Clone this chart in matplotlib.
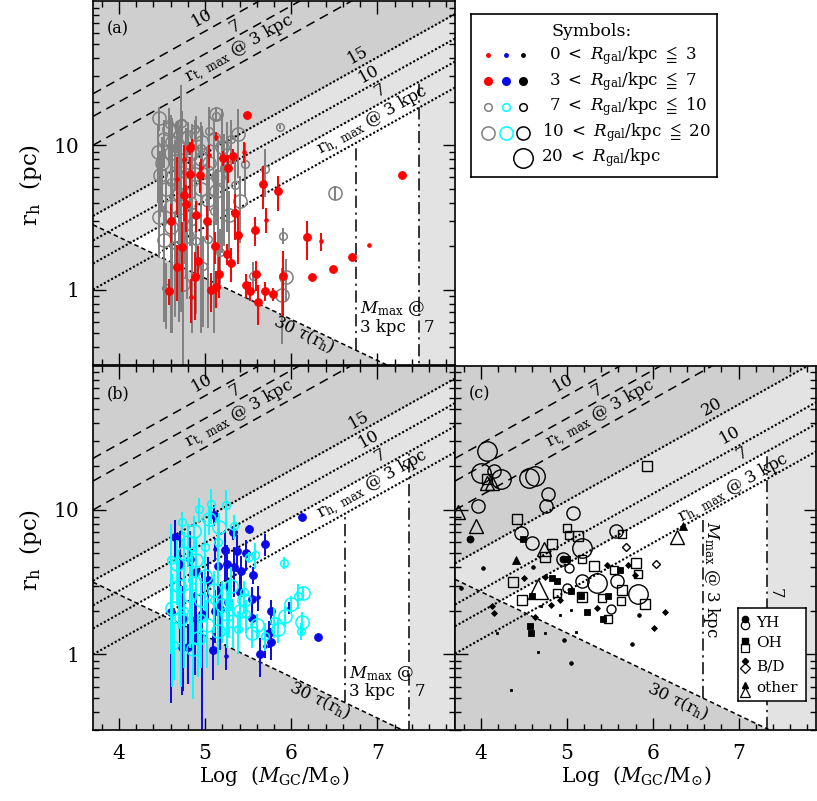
import numpy as np
import matplotlib
matplotlib.use("Agg")
import matplotlib.pyplot as plt
from matplotlib.ticker import MultipleLocator, FixedLocator, FuncFormatter

plt.rcParams['font.family'] = ['DejaVu Serif', 'DejaVu Sans']
plt.rcParams['mathtext.fontset'] = 'dejavuserif'

# ---------------- axis ranges ----------------
XMIN, XMAX = 3.7, 7.9
YMIN, YMAX = 0.3, 100.0

# ---------------- limit lines (log r at XMIN, slope 1/3) ----------------
rh_levels_ab = {15: 0.51, 10: 0.34, 7: 0.18, 3: 0.0}
rh_levels_c = {20: 0.63, 10: 0.345, 7: 0.195, 3: 0.005}
rt_levels = {10: 1.357, 7: 1.20, 3: 1.0}
tau_slope = -0.285
tau0 = {'a': 0.449, 'b': 0.50, 'c': 0.52}
mmax3 = {'a': 6.75, 'b': 6.62, 'c': 6.59}
mmax7 = {'a': 7.48, 'b': 7.37, 'c': 7.33}

# ---------------- panel (a) ----------------
red_big_logm = [5.49, 4.82, 5.33, 5.27, 4.82, 4.94, 5.67, 5.85, 4.76, 4.78, 4.90, 5.35, 4.61, 5.02,
                5.58, 5.38, 6.18, 4.73, 5.11, 5.25, 6.70, 4.92, 5.30, 4.67, 6.49, 6.24, 5.16, 5.59,
                4.88, 5.48, 5.91, 5.13, 5.07, 4.58, 5.52, 5.69, 5.79, 5.62, 7.29, 5.21]
red_big_r = [16.1, 9.6, 8.4, 7.0, 6.3, 6.2, 5.4, 4.8, 4.5, 3.9, 3.3, 3.4, 3.0, 3.0,
             2.6, 2.4, 2.3, 1.96, 2.0, 1.77, 1.69, 1.59, 1.53, 1.43, 1.39, 1.23, 1.28, 1.28,
             1.22, 1.08, 1.25, 1.05, 1.0, 0.98, 0.98, 0.98, 0.93, 0.82, 6.2, 8.2]
red_big_err = [0, 1.0, 1.0, 1.5, 2.0, 1.5, 1.8, 1.3, 1.5, 1.4, 0.8, 1.2, 0.9, 0.8,
               0.6, 0.9, 0.7, 1.0, 0.5, 0.3, 0, 0.4, 0.4, 0.6, 0, 0, 0.4, 0.3,
               0.6, 0.2, 0.6, 0.3, 0.3, 0.2, 0.15, 0.15, 0.1, 0.25, 0, 1.0]
red_small_logm = [6.90, 6.34, 5.71, 4.84, 5.45, 5.13, 4.75, 4.95, 5.05, 4.68, 4.85]
red_small_r = [2.04, 2.16, 3.05, 0.89, 9.0, 11.5, 8.0, 7.0, 8.5, 5.8, 10.0]
red_small_err = [0, 0.3, 0.6, 0.3, 1.5, 0.8, 2.0, 1.0, 1.5, 2.5, 1.0]

gray_big_logm = [4.47, 4.58, 4.72, 4.52, 4.62, 4.80, 4.90, 4.45, 4.60, 4.70, 4.85, 4.97, 5.10, 5.20,
                 4.50, 4.65, 4.78, 4.95, 5.05, 5.25, 4.48, 4.62, 4.75, 4.88, 5.02, 5.15, 4.55, 4.70,
                 4.95, 5.13, 4.47, 4.60, 4.83, 5.03, 5.40, 5.28, 5.38, 5.13, 6.51, 5.94, 5.89, 4.79,
                 4.74, 4.60, 4.52]
gray_big_r = [15.5, 13.0, 13.5, 11.0, 10.5, 11.5, 12.0, 9.0, 8.8, 9.5, 9.0, 10.5, 11.0, 9.8,
              7.5, 7.8, 7.2, 8.0, 7.5, 8.5, 6.2, 6.0, 5.5, 6.3, 6.5, 6.0, 5.0, 4.6,
              5.0, 4.8, 3.16, 3.8, 4.0, 4.2, 4.1, 3.3, 11.9, 16.4, 4.7, 1.22, 0.92, 2.36,
              1.09, 2.7, 2.2]
gray_big_err = [3, 5, 12.8, 4, 5, 3, 4, 5, 7.5, 4, 5, 3, 4, 8,
                4, 3, 6, 3, 4, 6, 3, 5.5, 4, 2, 3, 5, 2, 4,
                4.5, 2, 1.5, 3.3, 2, 3, 2, 1.5, 6, 2, 0.5, 0.4, 0.5, 1.5,
                0.8, 2, 1.6]
gray_small_logm = [4.58, 4.73, 4.88, 5.13, 5.87, 4.68, 5.05, 5.30, 5.46, 5.70, 5.90, 5.56, 5.17,
                   4.98, 4.55, 4.90, 5.03, 4.65, 4.85, 5.10, 4.95, 5.22, 4.60, 4.78, 5.35]
gray_small_r = [14.0, 14.3, 13.0, 16.0, 13.4, 11.8, 12.5, 11.0, 7.4, 6.9, 2.36, 1.25, 1.81,
                1.45, 1.03, 2.18, 2.24, 2.05, 3.0, 3.5, 9.5, 7.0, 5.6, 6.5, 5.3]
gray_small_err = [2, 3, 2, 1, 0.5, 3, 6, 4, 3, 2.5, 0.3, 0.3, 0.8,
                  0.9, 0.5, 1.5, 1.7, 1.4, 2.5, 3, 5, 5, 5, 4, 3]

# ---------------- panel (b) ----------------
blue_big_logm = [5.10, 6.12, 5.51, 5.33, 4.65, 5.69, 5.23, 5.37, 5.48, 4.83, 5.25, 5.34, 5.42, 5.15,
                 5.56, 5.04, 4.90, 4.71, 5.40, 5.27, 5.17, 5.12, 4.74, 4.88, 5.54, 5.76, 6.31, 5.77,
                 4.73, 4.80, 5.09, 5.64, 5.74, 5.54, 4.97, 4.61]
blue_big_r = [9.25, 9.0, 7.4, 7.0, 6.5, 5.8, 5.25, 5.2, 5.0, 4.6, 4.2, 4.0, 3.8, 4.1,
              3.55, 3.25, 3.7, 4.2, 2.7, 2.3, 2.07, 2.0, 1.76, 1.72, 1.78, 2.0, 1.32, 1.22,
              1.12, 1.12, 1.07, 1.0, 1.41, 2.43, 1.9, 1.96]
blue_big_err = [1.5, 0, 0.5, 0.8, 2.0, 1.0, 2.0, 1.5, 1.2, 2.5, 1.5, 1.5, 1.0, 2.0,
                0.5, 1.5, 2.5, 3.0, 1.0, 0.8, 1.0, 0.8, 1.2, 1.0, 0.5, 0.4, 0, 0.3,
                0.6, 0.5, 0.4, 0.3, 0.3, 0.5, 1.8, 1.5]
blue_small_logm = [5.97, 5.61, 5.69, 5.24, 5.12, 4.70, 4.85]
blue_small_r = [2.1, 2.49, 1.14, 0.98, 5.4, 3.0, 2.6]
blue_small_err = [0.2, 0.5, 0.2, 0.2, 1.0, 1.5, 1.2]

cyan_big_logm = [5.05, 5.16, 4.87, 4.80, 4.75, 4.68, 4.90, 5.00, 4.70, 4.82, 4.95, 5.10, 5.20, 5.30,
                 5.45, 5.60, 5.85, 6.14, 6.00, 5.93, 6.13, 5.55, 4.86, 4.62, 4.72, 5.32, 5.02, 5.25,
                 5.15, 4.92, 5.40]
cyan_big_r = [8.7, 7.6, 7.1, 6.0, 5.0, 4.2, 4.5, 3.5, 3.0, 2.6, 2.4, 2.8, 2.2, 3.0,
              2.4, 1.6, 1.5, 2.67, 2.24, 1.86, 1.67, 1.41, 1.09, 2.1, 1.8, 1.7, 1.6, 1.9,
              1.45, 1.3, 2.0]
cyan_big_err = [2, 2, 2, 2, 2, 2, 2, 1.5, 1.5, 1.5, 1, 1, 1, 1,
                0.5, 0.3, 0.3, 0.3, 0.3, 0.3, 0.3, 0.3, 0.6, 1.5, 1.2, 0.6, 0.8, 0.8,
                0.6, 0.6, 0.6]
cyan_small_logm = [5.07, 5.24, 4.93, 4.73, 5.34, 5.51, 5.58, 5.92, 6.11, 6.08, 5.70, 5.45, 4.64,
                   4.60, 4.85, 5.00, 5.15, 5.28, 4.75, 4.95, 5.10, 5.38, 5.48, 5.80]
cyan_small_r = [11.0, 10.8, 10.2, 8.2, 7.8, 4.7, 4.9, 4.3, 1.45, 2.55, 1.35, 2.7, 1.17,
                4.5, 3.3, 5.5, 6.0, 2.3, 2.0, 1.8, 2.4, 1.5, 1.9, 1.7]
cyan_small_err = [3, 3, 2, 1.5, 1.5, 0.4, 1, 0.4, 0.2, 0.5, 0.3, 0.5, 0.5,
                  3.5, 2, 3, 3, 1, 1.2, 1, 1, 0.5, 0.5, 0.4]

# ---------------- panel (c) ----------------
# size class: 0 = 0-3 kpc, 1 = 3-7, 2 = 7-10, 3 = 10-20, 4 = >20
yh_logm = [4.07, 4.00, 4.156, 4.233, 3.962, 4.563, 4.63, 4.787, 4.756, 5.075, 4.466, 4.594, 5.183,
           5.571, 4.958, 5.183, 5.357, 5.59, 5.83, 5.512, 5.008, 5.028, 3.873, 4.96,
           4.02, 3.768, 5.055, 4.97, 5.757, 5.84, 4.61]
yh_r = [25.5, 18.1, 18.5, 16.3, 10.6, 16.7, 17.1, 12.8, 10.7, 9.55, 6.95, 5.9, 5.47,
        7.1, 4.6, 3.2, 3.13, 3.2, 2.64, 2.05, 2.89, 3.98, 6.25, 4.6,
        3.94, 2.89, 0.875, 1.26, 1.18, 1.89, 4.04]
yh_cls = [4, 4, 3, 4, 3, 4, 4, 3, 3, 3, 3, 3, 4,
          3, 3, 3, 4, 3, 4, 2, 2, 2, 1, 1,
          0, 0, 0, 0, 0, 0, 0]
oh_logm = [5.938, 4.427, 4.834, 4.745, 5.0, 5.028, 5.132, 5.648, 5.318, 5.80, 5.83, 4.38, 4.474,
           5.183, 5.64, 5.912, 5.485, 5.183, 5.55, 5.415, 5.628, 4.078, 4.885,
           4.493, 4.826, 4.892, 5.234, 4.574, 4.58, 4.594, 5.423, 5.163, 5.047, 5.621, 5.008, 5.485,
           4.35, 4.667, 4.183, 4.745, 5.105, 5.047, 4.924, 4.698]
oh_r = [20.1, 8.7, 5.8, 4.7, 7.5, 6.7, 6.6, 6.8, 4.08, 4.3, 3.58, 3.17, 2.38,
        2.49, 2.79, 2.24, 1.76, 4.59, 3.83, 2.47, 2.36, 16.4, 2.67,
        6.25, 3.36, 3.2, 1.96, 1.57, 1.41, 2.53, 1.77, 2.54, 2.76, 3.87, 4.59, 2.54,
        0.57, 1.04, 1.41, 1.41, 1.43, 2.03, 1.89, 2.15]
oh_cls = [3, 3, 3, 3, 2, 2, 3, 2, 3, 3, 2, 3, 3,
          3, 3, 3, 2, 2, 2, 2, 2, 3, 2,
          1, 1, 1, 1, 1, 1, 1, 1, 1, 1, 1, 1, 1,
          0, 0, 0, 0, 0, 0, 0, 0]
bd_logm = [5.687, 6.036, 4.504, 4.125, 4.156, 4.745, 5.466, 5.718, 5.795, 6.14, 6.01, 4.63, 5.357,
           4.924, 4.815]
bd_r = [5.56, 4.2, 3.39, 2.18, 1.94, 3.44, 4.15, 4.19, 3.53, 1.97, 1.53, 1.82, 2.1, 2.4, 2.19]
bd_cls = [2, 2, 1, 1, 1, 1, 1, 1, 1, 1, 1, 1, 1, 1, 1]
other_logm = [3.737, 4.078, 4.136, 3.943, 4.73, 4.66, 6.28, 4.41, 6.354]
other_r = [9.7, 15.4, 15.4, 7.7, 5.4, 2.84, 6.5, 4.54, 7.7]
other_cls = [3, 3, 3, 3, 3, 4, 3, 1, 1]

DARK = '#cfcfcf'
LIGHT = '#e3e3e3'
GRAY = '#808080'
RED = '#ff0000'
BLUE = '#0a0ae6'
CYAN = '#00ffff'

fig = plt.figure(figsize=(8.17, 8.01), dpi=100)
W, H = 362 / 817, 364.5 / 801
ax_a = fig.add_axes([93 / 817, 1 - 365 / 801, W, 364 / 801])
ax_b = fig.add_axes([93 / 817, 1 - 730 / 801, W, H])
ax_c = fig.add_axes([455 / 817, 1 - 730 / 801, 361 / 817, H])


def setup(ax, show_x, show_y):
    ax.set_xlim(XMIN, XMAX)
    ax.set_yscale('log')
    ax.set_ylim(YMIN, YMAX)
    ax.xaxis.set_major_locator(FixedLocator([4, 5, 6, 7]))
    ax.xaxis.set_minor_locator(MultipleLocator(0.2))
    ax.yaxis.set_major_locator(FixedLocator([1, 10]))
    ax.yaxis.set_minor_locator(FixedLocator([0.3, 0.4, 0.5, 0.6, 0.7, 0.8, 0.9] +
                                            list(range(2, 10)) + list(range(20, 100, 10))))
    ax.yaxis.set_major_formatter(FuncFormatter(lambda v, p: '%g' % v))
    ax.yaxis.set_minor_formatter(FuncFormatter(lambda v, p: ''))
    ax.tick_params(which='both', direction='in', top=True, right=True, labelsize=14.5)
    ax.tick_params(axis='x', pad=10)
    ax.tick_params(axis='y', pad=10)
    ax.tick_params(which='major', length=9, width=1.0)
    ax.tick_params(which='minor', length=4.5, width=1.0)
    if not show_x:
        ax.tick_params(labelbottom=False)
    if not show_y:
        ax.tick_params(labelleft=False)
    for s in ax.spines.values():
        s.set_linewidth(1.2)
        s.set_zorder(10)


def slope_angle(ax, slope):
    bb = ax.get_window_extent()
    ppx = bb.width / (XMAX - XMIN)
    ppy = bb.height / np.log10(YMAX / YMIN)
    return np.degrees(np.arctan(slope * ppy / ppx))


def frame(ax, key, rh_levels, band_top):
    xs = np.sort(np.r_[np.linspace(XMIN, XMAX, 600), mmax7[key], mmax3[key]])
    tau = 10 ** (tau0[key] + tau_slope * (xs - XMIN))
    rh = {k: 10 ** (v + (xs - XMIN) / 3.0) for k, v in rh_levels.items()}
    ax.set_facecolor(DARK)
    ax.fill_between(xs, tau, rh[band_top], where=rh[band_top] > tau, interpolate=True,
                    color=LIGHT, lw=0, zorder=0.1)
    m = xs <= mmax7[key] + 1e-9
    ax.fill_between(xs[m], tau[m], rh[7][m], where=rh[7][m] > tau[m], interpolate=True,
                    color='white', lw=0, zorder=0.2)
    for k in rh_levels:
        ax.plot(xs, rh[k], color='k', ls=(0, (1.0, 1.0)), lw=1.5, zorder=1)
    for k, v in rt_levels.items():
        ax.plot(xs, 10 ** (v + (xs - XMIN) / 3.0), color='k', ls=(0, (6, 4)), lw=1.1, zorder=1)
    ax.plot(xs, tau, color='k', ls=(0, (3, 2)), lw=1.1, zorder=1)
    for xv, lev in ((mmax3[key], 3), (mmax7[key], 7)):
        top = 10 ** (rh_levels[lev] + (xv - XMIN) / 3.0)
        bot = 10 ** (tau0[key] + tau_slope * (xv - XMIN))
        ax.plot([xv, xv], [bot, top], color='k', ls=(0, (8, 3, 1.5, 3)), lw=1.1, zorder=1)


def line_labels(ax, panel, top_label):
    a_up = slope_angle(ax, 1 / 3.0)
    a_dn = slope_angle(ax, tau_slope)
    kw = dict(ha='center', va='center', rotation=a_up, rotation_mode='anchor', fontsize=12, zorder=5)
    ax.text(4.96, 76, '10', **kw)
    ax.text(5.35, 67, '7', **kw)
    ax.text(5.40, 46, r'$\mathrm{r_{t,\ max}}$ @ 3 kpc', **kw)
    if panel == 'c':
        ax.text(6.69, 52, '20', **kw)
        ax.text(6.90, 33, '10', **kw)
        ax.text(7.04, 24.5, '7', **kw)
        ax.text(6.95, 14.0, r'$\mathrm{r_{h,\ max}}$ @ 3 kpc', **kw)
    else:
        ax.text(6.78, 42, '15', **kw)
        ax.text(6.90, 31, '10', **kw)
        ax.text(7.03, 24, '7', **kw)
        ax.text(6.95, 14.8, r'$\mathrm{r_{h,\ max}}$ @ 3 kpc', **kw)
    ax.text({'a': 6.14, 'b': 6.33, 'c': 6.29}[panel], {'a': 0.49, 'b': 0.48, 'c': 0.47}[panel],
            r'30 $\tau(\mathrm{r_h})$', ha='center', va='center', rotation=a_dn,
            rotation_mode='anchor', fontsize=12, zorder=5)
    ax.text(3.99, 64, top_label, ha='center', va='center', fontsize=11.5, zorder=5)


def scatter_err(ax, x, r, e, color, ms, filled, z):
    ax.errorbar(x, r, yerr=e, fmt='none', ecolor=color, elinewidth=1.4, zorder=z)
    if filled:
        ax.plot(x, r, 'o', ms=ms, mfc=color, mec=color, mew=0.8, ls='none', zorder=z + 0.1)
    else:
        ax.plot(x, r, 'o', ms=ms, mfc='none', mec=color, mew=1.1, ls='none', zorder=z + 0.1)


setup(ax_a, False, True)
setup(ax_b, True, True)
setup(ax_c, True, False)

frame(ax_a, 'a', rh_levels_ab, 15)
frame(ax_b, 'b', rh_levels_ab, 15)
frame(ax_c, 'c', rh_levels_c, 20)

line_labels(ax_a, 'a', '(a)')
line_labels(ax_b, 'b', '(b)')
line_labels(ax_c, 'c', '(c)')

# M_max labels
for ax, key in ((ax_a, 'a'), (ax_b, 'b')):
    ax.text(mmax3[key] + 0.05, 0.74, r'$M_{\rm max}$ @', ha='left', va='center', fontsize=12, zorder=5)
    ax.text(mmax3[key] + 0.05, 0.55, '3 kpc', ha='left', va='center', fontsize=12, zorder=5)
    ax.text(mmax7[key] + 0.12, 0.55, '7', ha='center', va='center', fontsize=12, zorder=5)
ax_c.text(6.69, 3.3, r'$M_{\rm max}$ @ 3 kpc', ha='center', va='center', rotation=-90,
          fontsize=12, zorder=5)
ax_c.text(7.43, 2.67, '7', ha='center', va='center', rotation=-90, fontsize=12, zorder=5)

# panel (a) points
scatter_err(ax_a, gray_big_logm, gray_big_r, gray_big_err, GRAY, 9.5, False, 2)
scatter_err(ax_a, gray_small_logm, gray_small_r, gray_small_err, GRAY, 5.5, False, 2.2)
scatter_err(ax_a, red_big_logm, red_big_r, red_big_err, RED, 5.5, True, 3)
scatter_err(ax_a, red_small_logm, red_small_r, red_small_err, RED, 2.5, True, 3.2)

# panel (b) points
scatter_err(ax_b, blue_big_logm, blue_big_r, blue_big_err, BLUE, 5.5, True, 2)
scatter_err(ax_b, blue_small_logm, blue_small_r, blue_small_err, BLUE, 2.5, True, 2.2)
scatter_err(ax_b, cyan_big_logm, cyan_big_r, cyan_big_err, CYAN, 9.5, False, 2.5)
scatter_err(ax_b, cyan_small_logm, cyan_small_r, cyan_small_err, CYAN, 5.5, False, 2.7)

# panel (c) points
cls_ms = {0: 2.6, 1: 5.0, 2: 6.5, 3: 9.5, 4: 14.0}
shape_scale = {'o': 1.0, 's': 0.82, 'D': 0.6, '^': 1.05}
for mk, xs_, rs_, cs_ in (('o', yh_logm, yh_r, yh_cls), ('s', oh_logm, oh_r, oh_cls),
                          ('D', bd_logm, bd_r, bd_cls), ('^', other_logm, other_r, other_cls)):
    for xv, rv, cv in zip(xs_, rs_, cs_):
        ms = cls_ms[cv] * shape_scale[mk]
        if cv <= 1:
            ax_c.plot(xv, rv, mk, ms=ms, mfc='k', mec='k', mew=0.6, zorder=3)
        else:
            ax_c.plot(xv, rv, mk, ms=ms, mfc='none', mec='k', mew=1.0, zorder=3)

# axis labels
for xc in (274, 636):
    fig.text(xc / 817, 1 - 776 / 801, r'Log  ($M_{\rm GC}$/$\mathrm{M_{\odot}}$)', ha='center',
             va='center', fontsize=14.5)
for yc in (185, 550):
    fig.text(31 / 817, 1 - yc / 801, r'$\mathrm{r_h}$  (pc)', ha='center', va='center',
             rotation=90, fontsize=16.5)

# Symbols legend
lg = fig.add_axes([471 / 817, 1 - 177 / 801, 246 / 817, 163 / 801])
lg.set_xlim(0, 1)
lg.set_ylim(0, 1)
lg.set_xticks([])
lg.set_yticks([])
for s in lg.spines.values():
    s.set_linewidth(1.2)
lg.text(0.49, 0.89, 'Symbols:', ha='center', va='center', fontsize=12.5)
rows = [(0.748, r'$0\ <\ R_{\rm gal}/{\rm kpc}\ \leqq\ 3$', 0.318),
        (0.588, r'$3\ <\ R_{\rm gal}/{\rm kpc}\ \leqq\ 7$', 0.318),
        (0.430, r'$7\ <\ R_{\rm gal}/{\rm kpc}\ \leqq\ 10$', 0.318),
        (0.273, r'$10\ <\ R_{\rm gal}/{\rm kpc}\ \leqq\ 20$', 0.29),
        (0.117, r'$20\ <\ R_{\rm gal}/{\rm kpc}$', 0.283)]
for y, t, x0 in rows:
    lg.text(x0, y, t, ha='left', va='center', fontsize=12)
for i, c in enumerate((RED, BLUE, 'k')):
    xm = 0.070 + 0.071 * i
    lg.plot(xm, 0.748, 'o', ms=2.5, mfc=c, mec=c)
    lg.plot(xm, 0.588, 'o', ms=5.5, mfc=c, mec=c)
for i, c in enumerate((GRAY, CYAN, 'k')):
    xm = 0.070 + 0.071 * i
    lg.plot(xm, 0.430, 'o', ms=5.5, mfc='none', mec=c, mew=1.1)
    lg.plot(xm, 0.273, 'o', ms=9.5, mfc='none', mec=c, mew=1.1)
lg.plot(0.212, 0.117, 'o', ms=14, mfc='none', mec='k', mew=1.1)

# type legend in panel (c)
tl = fig.add_axes([738 / 817, 1 - 701 / 801, 68 / 817, 93 / 801], zorder=20)
tl.set_xlim(0, 1)
tl.set_ylim(0, 1)
tl.set_xticks([])
tl.set_yticks([])
for s in tl.spines.values():
    s.set_linewidth(1.1)
types = [('o', 'YH', 0.885, 0.813, 0.838, 4.5), ('s', 'OH', 0.64, 0.568, 0.62, 4.2),
         ('D', 'B/D', 0.431, 0.353, 0.375, 3.2), ('^', 'other', 0.173, 0.10, 0.135, 5.0)]
for mk, lab, yf, yo, yt, ms in types:
    tl.plot(0.10, yf, mk, ms=ms, mfc='k', mec='k')
    tl.plot(0.10, yo, mk, ms=ms + 1.5, mfc='none', mec='k', mew=0.9)
    tl.text(0.27, yt, lab, ha='left', va='center', fontsize=11)

fig.savefig('out.png', dpi=100)
